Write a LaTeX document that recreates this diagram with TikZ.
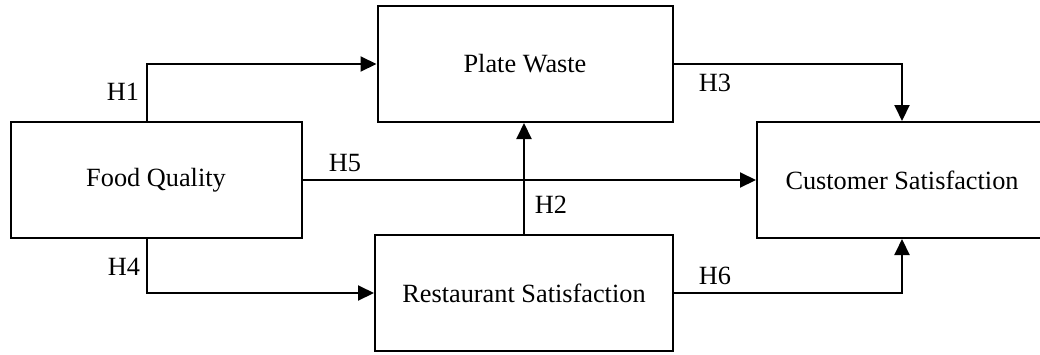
\documentclass[tikz,border=0pt]{standalone}
\usepackage{fontspec}
\setmainfont{Liberation Serif}
\usetikzlibrary{arrows.meta}
\begin{document}
\begin{tikzpicture}[x=1pt,y=-1pt,
  box/.style={draw,line width=2pt,rectangle,inner sep=0pt,minimum height=116pt,font=\fontsize{26.3}{30}\selectfont},
  arr/.style={line width=2pt,-{Triangle[length=16pt,width=15pt]}},
  lab/.style={font=\fontsize{26.3}{30}\selectfont,inner sep=0pt}]
\useasboundingbox (0,0) rectangle (1040,354);
\clip (0,0) rectangle (1040,354);
\node[box,minimum width=291pt] (food) at (156,180) {Food Quality};
\node[box,minimum width=295pt] (plate) at (525,64) {Plate Waste};
\node[box,minimum width=298pt] (rest) at (524,293) {Restaurant Satisfaction};
\node[box,minimum width=290pt] (cust) at (902,180) {Customer Satisfaction};
\draw[arr] ([xshift=-9pt]food.north) |- (plate.west);
\draw[arr] ([xshift=-9pt]food.south) |- (rest.west);
\draw[arr] (food.east) -- (cust.west);
\draw[arr] (rest.north) -- (rest.north |- plate.south);
\draw[arr] (plate.east) -| (cust.north);
\draw[arr] (rest.east) -| (cust.south);
\node[lab] (h1) at (123,92) {H1};
\node[lab] (h4) at (124,267) {H4};
\node[lab] (h5) at (345,163) {H5};
\node[lab] (h2) at (551,205) {H2};
\node[lab] (h3) at (715,83) {H3};
\node[lab] (h6) at (715,276) {H6};
\end{tikzpicture}
\end{document}
